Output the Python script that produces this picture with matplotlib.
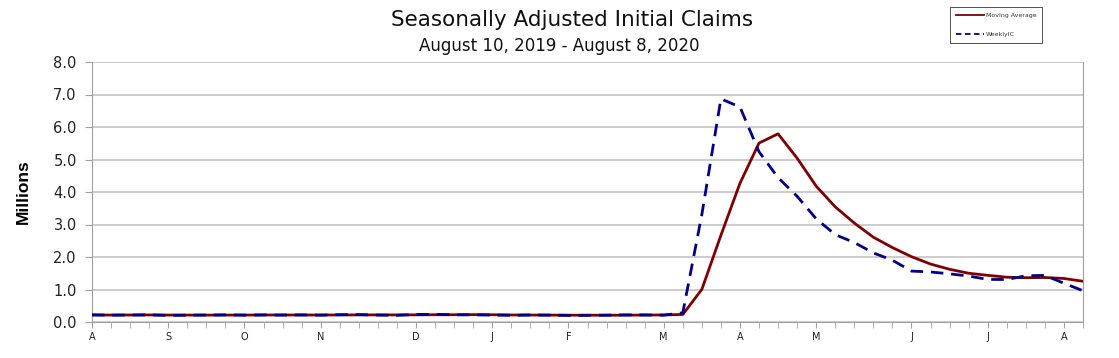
import matplotlib
matplotlib.use("Agg")
import matplotlib.pyplot as plt
from matplotlib.lines import Line2D

plt.rcParams['font.family'] = ['DejaVu Sans']

# Weekly dates (week ending), Aug 10 2019 .. Aug 8 2020 (53 weeks)
weeks = list(range(53))
month_labels = ["A", "S", "O", "N", "D", "J", "F", "M", "A", "M", "J", "J", "A"]
month_label_weeks = [0, 4, 8, 12, 17, 21, 25, 30, 34, 38, 43, 47, 51]

# Weekly initial claims (millions)
weekly_ic = [0.220, 0.211, 0.216, 0.219, 0.205, 0.210, 0.215, 0.220,
             0.211, 0.218, 0.213, 0.219, 0.211, 0.225, 0.228, 0.213,
             0.206, 0.232, 0.235, 0.222, 0.220, 0.214, 0.207, 0.216,
             0.212, 0.203, 0.206, 0.211, 0.220, 0.217, 0.211, 0.282,
             3.307, 6.867, 6.615, 5.237, 4.442, 3.867, 3.176, 2.687,
             2.446, 2.126, 1.901, 1.566, 1.540, 1.482, 1.413, 1.310,
             1.307, 1.422, 1.435, 1.191, 0.963]

# 4-week moving average (millions)
moving_avg = [0.215, 0.214, 0.215, 0.217, 0.213, 0.213, 0.212, 0.213,
              0.214, 0.216, 0.216, 0.215, 0.215, 0.217, 0.218, 0.219,
              0.218, 0.220, 0.224, 0.224, 0.227, 0.223, 0.216, 0.214,
              0.212, 0.210, 0.209, 0.208, 0.210, 0.214, 0.217, 0.232,
              1.004, 2.667, 4.268, 5.506, 5.790, 5.040, 4.180, 3.543,
              3.044, 2.609, 2.290, 2.010, 1.783, 1.622, 1.500, 1.436,
              1.378, 1.363, 1.369, 1.339, 1.253]

fig = plt.figure(figsize=(11.19, 3.58), dpi=100)
ax = fig.add_axes([92/1119, 1-322/358, (1083-92)/1119, (322-62)/358])

ax.plot(weeks, moving_avg, color='#800000', lw=2.0, label='Moving Average', zorder=3)
ax.plot(weeks, weekly_ic, color='#00008B', lw=2.0, ls=(0, (4.5, 2.8)), label='WeeklyIC', zorder=4)

ax.set_xlim(0, 52)
ax.set_ylim(0, 8)
ax.set_yticks(range(0, 9))
ax.set_yticklabels([f"{v:.1f}" for v in range(0, 9)], fontsize=10.5, color='#222222')
ax.grid(axis='y', color='#c8c8c8', lw=1.3)
ax.set_axisbelow(True)

ax.set_xticks(month_label_weeks)
ax.set_xticklabels(month_labels, fontsize=7, color='#222222')
ax.set_xticks(weeks, minor=True)
ax.tick_params(axis='x', which='both', length=4, color='#a0a0a0', pad=3)
ax.tick_params(axis='y', length=5, color='#a0a0a0', pad=6)

for s in ['left', 'right', 'bottom']:
    ax.spines[s].set_color('#a0a0a0')
ax.spines['top'].set_visible(False)

ax.set_ylabel('Millions', fontsize=12.5, fontweight='bold',
              family=['Liberation Sans Narrow', 'Liberation Sans'], labelpad=16)

fig.text(572/1119, 1-20/358, 'Seasonally Adjusted Initial Claims', ha='center', va='center',
         fontsize=15.5, color='#111111')
fig.text(559/1119, 1-46/358, 'August 10, 2019 - August 8, 2020', ha='center', va='center',
         fontsize=12, color='#111111')

handles = [Line2D([], [], color='#800000', lw=1.3),
           Line2D([], [], color='#00008B', lw=1.3, ls=(0, (3, 2)))]
leg = fig.legend(handles, ['Moving Average', 'WeeklyIC'], loc='upper left',
                 bbox_to_anchor=(950/1119, 1-7/358), fontsize=4.5, frameon=True,
                 fancybox=False, edgecolor='black', handlelength=4.5,
                 borderpad=0.9, labelspacing=2.2, handletextpad=0.3, borderaxespad=0)
leg.get_frame().set_linewidth(0.6)
for t in leg.get_texts():
    t.set_color('#333333')

fig.savefig('out.png', dpi=100)
